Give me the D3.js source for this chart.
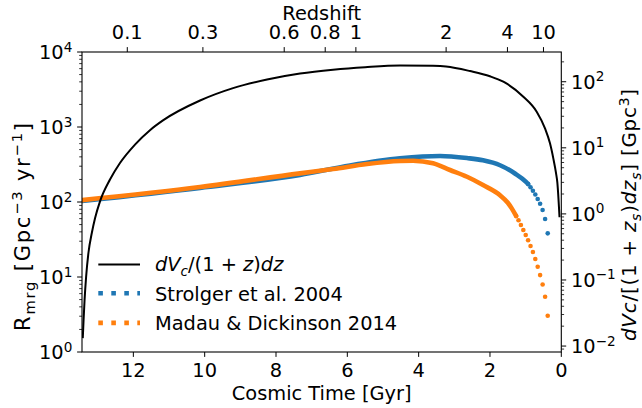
<!DOCTYPE html>
<html><head><meta charset="utf-8">
<script src="https://cdn.jsdelivr.net/npm/d3@7"></script>
<style>body{margin:0;background:#fff} text{font-family:"DejaVu Sans",sans-serif;fill:#000}</style>
</head><body><svg id="c" width="642" height="408"></svg>
<script>
// ---- data ----
const timeDomain = [13.44, 0];
const rateDomain = [1, 1e4];
const volDomain = [Math.pow(10, -2.09), Math.pow(10, 2.45)];
const bottomTicks = [12, 10, 8, 6, 4, 2, 0];
const redshiftLabels = ["0.1", "0.3", "0.6", "0.8", "1", "2", "4", "10"];
const redshiftTimes = [12.17, 10.05, 7.77, 6.62, 5.76, 3.23, 1.51, 0.50];
const leftTickExps = [0, 1, 2, 3, 4];
const rightTickExps = [-2, -1, 0, 1, 2];

const volTime = [13.418, 13.396, 13.368, 13.325, 13.26, 13.165, 13.073, 12.935, 12.655, 12.375, 11.954, 11.534, 11.17, 10.129, 9.204, 8.251, 7.326, 6.40, 5.50, 4.522, 3.60, 3.232, 2.559, 2.0, 1.626, 1.065, 0.690, 0.457, 0.317, 0.224, 0.149, 0.112, 0.050];
const volValue = [0.0132, 0.0248, 0.0498, 0.111, 0.256, 0.514, 0.867, 1.55, 3.31, 5.89, 11.2, 18.5, 26.0, 52.0, 80.0, 108, 133, 152, 166, 176, 174, 170, 145, 121, 100, 59.4, 35.2, 19.7, 11.7, 6.92, 4.17, 3.02, 0.89];

const strolgerTime = [13.437, 10.129, 7.326, 5.924, 4.522, 3.401, 2.644, 2.195, 1.718, 1.30, 0.990];
const strolgerRate = [103, 154, 229, 307, 382, 411, 385, 359, 309, 240, 186];
const strolgerDotTime = [0.931, 0.863, 0.796, 0.729, 0.662, 0.594, 0.524, 0.454, 0.381];
const strolgerDotRate = [174, 157, 141.5, 126, 109.6, 94.9, 78.2, 59.3, 38.2];

const madauTime = [13.437, 10.129, 7.326, 6.40, 5.447, 4.522, 4.158, 3.597, 3.120, 2.644, 2.195, 1.718, 1.50, 1.39];
const madauRate = [106, 158.5, 241, 275, 321, 352, 355, 328, 267, 217, 168.5, 123, 97.7, 82.2];
const madauDotTime = [1.267, 1.200, 1.133, 1.065, 0.998, 0.931, 0.863, 0.796, 0.729, 0.662, 0.594, 0.524, 0.454, 0.381];
const madauDotRate = [65.1, 57.0, 49.4, 42.3, 36.3, 30.9, 25.9, 21.5, 17.4, 13.7, 10.6, 7.94, 5.46, 3.05];

const legendLabels = ["Strolger et al. 2004", "Madau & Dickinson 2014"];
const blue = "#1f77b4", orange = "#ff7f0e";

// ---- layout ----
const L = 82, R = 561.3, T = 52, B = 352;
const FS = 19.4;
const svg = d3.select("#c");
const x = d3.scaleLinear().domain(timeDomain).range([L, R]);
const yL = d3.scaleLog().domain(rateDomain).range([B, T]);
const yR = d3.scaleLog().domain(volDomain).range([B, T]);

const plot = svg.append("g");
plot.append("clipPath").attr("id", "clip").append("rect").attr("x", L).attr("y", T).attr("width", R - L).attr("height", B - T);
const clipped = plot.append("g").attr("clip-path", "url(#clip)");

function series(ts, vs) { return ts.map((t, i) => [t, vs[i]]); }
const lineL = d3.line().x(d => x(d[0])).y(d => yL(d[1])).curve(d3.curveMonotoneX);
const lineR = d3.line().x(d => x(d[0])).y(d => yR(d[1])).curve(d3.curveMonotoneX);

function drawRate(ts, vs, dts, dvs, color) {
  const pts = series(ts, vs).concat([[dts[0], dvs[0]]]);
  clipped.append("path").attr("d", lineL(pts)).attr("fill", "none").attr("stroke", color)
    .attr("stroke-width", 4.6).attr("stroke-linecap", "round");
  clipped.selectAll(null).data(series(dts, dvs)).enter().append("circle")
    .attr("cx", d => x(d[0])).attr("cy", d => yL(d[1])).attr("r", 2.3).attr("fill", color);
}
drawRate(strolgerTime, strolgerRate, strolgerDotTime, strolgerDotRate, blue);
drawRate(madauTime, madauRate, madauDotTime, madauDotRate, orange);

clipped.append("path").attr("d", lineR(series(volTime, volValue))).attr("fill", "none")
  .attr("stroke", "#000").attr("stroke-width", 2);

// ---- frame ----
svg.append("rect").attr("x", L).attr("y", T).attr("width", R - L).attr("height", B - T)
  .attr("fill", "none").attr("stroke", "#000").attr("stroke-width", 1.1);

const ax = svg.append("g").attr("stroke", "#000").attr("stroke-width", 1);
const MAJ = 4.9, MIN = 2.8;
bottomTicks.forEach(t => {
  ax.append("line").attr("x1", x(t)).attr("x2", x(t)).attr("y1", B).attr("y2", B + MAJ);
  svg.append("text").attr("x", x(t)).attr("y", 377).attr("text-anchor", "middle").style("font-size", FS + "px").text(t);
});
redshiftTimes.forEach((t, i) => {
  ax.append("line").attr("x1", x(t)).attr("x2", x(t)).attr("y1", T).attr("y2", T - MAJ);
  svg.append("text").attr("x", x(t)).attr("y", 39).attr("text-anchor", "middle").style("font-size", FS + "px").text(redshiftLabels[i]);
});
function powLabel(xp, yp, e, anchor) {
  const t = svg.append("text").attr("x", xp).attr("y", yp).attr("text-anchor", anchor).style("font-size", FS + "px");
  t.append("tspan").text("10");
  t.append("tspan").attr("dy", -7.5).style("font-size", (FS * 0.7) + "px").text(e < 0 ? "\u2212" + (-e) : e);
}
leftTickExps.forEach(e => {
  const v = Math.pow(10, e);
  ax.append("line").attr("x1", L).attr("x2", L - MAJ).attr("y1", yL(v)).attr("y2", yL(v));
  powLabel(L - 9.7, yL(v) + 7, e, "end");
  if (e < 4) for (let m = 2; m <= 9; m++) {
    const vv = m * v;
    ax.append("line").attr("x1", L).attr("x2", L - MIN).attr("y1", yL(vv)).attr("y2", yL(vv)).attr("stroke-width", 0.8);
  }
});
rightTickExps.forEach(e => {
  const v = Math.pow(10, e);
  ax.append("line").attr("x1", R).attr("x2", R + MAJ).attr("y1", yR(v)).attr("y2", yR(v));
  powLabel(R + 9.7, yR(v) + 7, e, "start");
});
for (let e = -3; e <= 2; e++) for (let m = 2; m <= 9; m++) {
  const vv = m * Math.pow(10, e);
  if (vv < volDomain[0] || vv > volDomain[1]) continue;
  ax.append("line").attr("x1", R).attr("x2", R + MIN).attr("y1", yR(vv)).attr("y2", yR(vv)).attr("stroke-width", 0.8);
}

// ---- axis labels ----
svg.append("text").attr("x", (L + R) / 2).attr("y", 400).attr("text-anchor", "middle").style("font-size", FS + "px").text("Cosmic Time [Gyr]");
svg.append("text").attr("x", (L + R) / 2).attr("y", 20).attr("text-anchor", "middle").style("font-size", FS + "px").text("Redshift");

const LFS = 21;
const ll = svg.append("text").attr("transform", `translate(30,227) rotate(-90)`).attr("text-anchor", "middle").style("font-size", LFS + "px");
ll.append("tspan").text("R");
ll.append("tspan").attr("dy", 5).style("font-size", (LFS * 0.7) + "px").text("mrg");
ll.append("tspan").attr("dy", -5).text(" [Gpc");
ll.append("tspan").attr("dy", -8).style("font-size", (LFS * 0.7) + "px").text("\u22123");
ll.append("tspan").attr("dy", 8).text(" yr");
ll.append("tspan").attr("dy", -8).style("font-size", (LFS * 0.7) + "px").text("\u22121");
ll.append("tspan").attr("dy", 8).text("]");
ll.attr("textLength", 208).attr("lengthAdjust", "spacing");

const RFS = 19.8;
const rl = svg.append("text").attr("transform", `translate(636,215) rotate(-90)`).attr("text-anchor", "middle").style("font-size", RFS + "px");
rl.append("tspan").style("font-style", "italic").text("dVc");
rl.append("tspan").text("/[(1 + ");
rl.append("tspan").style("font-style", "italic").text("z");
rl.append("tspan").attr("dy", 4.5).style("font-size", (RFS * 0.7) + "px").style("font-style", "italic").text("s");
rl.append("tspan").attr("dy", -4.5).text(")");
rl.append("tspan").style("font-style", "italic").text("dz");
rl.append("tspan").attr("dy", 4.5).style("font-size", (RFS * 0.7) + "px").style("font-style", "italic").text("s");
rl.append("tspan").attr("dy", -4.5).text("] [Gpc");
rl.append("tspan").attr("dy", -7.5).style("font-size", (RFS * 0.7) + "px").text("3");
rl.append("tspan").attr("dy", 7.5).text("]");
rl.attr("textLength", 252).attr("lengthAdjust", "spacing");

// ---- legend ----
const lg = svg.append("g");
const lx0 = 98.3, lx1 = 140, tx = 155;
const rows = [271, 300.7, 330.4];
lg.append("line").attr("x1", lx0).attr("x2", lx1).attr("y1", rows[0] - 6.5).attr("y2", rows[0] - 6.5).attr("stroke", "#000").attr("stroke-width", 2);
const lt = lg.append("text").attr("x", tx).attr("y", rows[0]).style("font-size", FS + "px");
lt.append("tspan").style("font-style", "italic").text("dV");
lt.append("tspan").attr("dy", 4.5).style("font-size", (FS * 0.7) + "px").style("font-style", "italic").text("c");
lt.append("tspan").attr("dy", -4.5).text("/(1 + ");
lt.append("tspan").style("font-style", "italic").text("z");
lt.append("tspan").text(")");
lt.append("tspan").style("font-style", "italic").text("dz");
[blue, orange].forEach((c, i) => {
  lg.append("line").attr("x1", lx0).attr("x2", lx1).attr("y1", rows[i + 1] - 7.5).attr("y2", rows[i + 1] - 7.5)
    .attr("stroke", c).attr("stroke-width", 4.6).attr("stroke-dasharray", "4.6,8.4");
  lg.append("text").attr("x", tx).attr("y", rows[i + 1]).style("font-size", FS + "px").text(legendLabels[i]);
});
</script></body></html>
